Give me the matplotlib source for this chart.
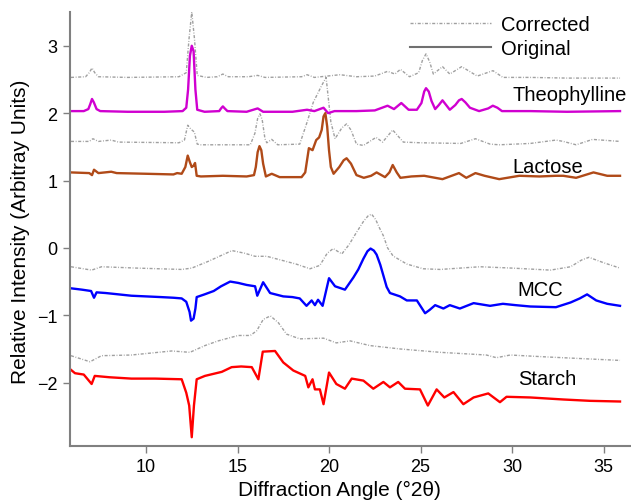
import matplotlib
matplotlib.use("Agg")
import matplotlib.pyplot as plt
from matplotlib.lines import Line2D

plt.rcParams['font.family'] = ['Liberation Sans', 'DejaVu Sans']

# ---- Theophylline ----
theo_orig_x = [5.9, 6.6, 6.85, 6.95, 7.05, 7.15, 7.3, 7.5, 9.0, 11.0, 12.0, 12.2, 12.3, 12.4,
               12.5, 12.6, 12.7, 12.8, 13.2, 14.0, 14.1, 14.2, 14.3, 14.45, 15.5, 16.1, 16.4,
               18.0, 18.8, 19.2, 19.7, 19.95, 20.3, 21.5, 22.5, 23.2, 23.55, 23.95, 24.35, 24.8,
               25.05, 25.2, 25.3, 25.45, 25.6, 25.8, 26.0, 26.2, 26.4, 26.6, 26.9, 27.1, 27.25,
               27.45, 27.7, 28.2, 28.7, 28.95, 29.2, 29.45, 31.0, 33.0, 35.9]
theo_orig_y = [2.03, 2.03, 2.06, 2.13, 2.21, 2.16, 2.06, 2.03, 2.02, 2.02, 2.03, 2.08, 2.35, 2.85,
               3.0, 2.92, 2.35, 2.05, 2.02, 2.03, 2.07, 2.10, 2.07, 2.03, 2.02, 2.07, 2.02,
               2.02, 2.05, 2.03, 2.08, 2.0, 2.03, 2.03, 2.04, 2.11, 2.06, 2.15, 2.05, 2.05,
               2.15, 2.32, 2.37, 2.32, 2.18, 2.06, 2.12, 2.19, 2.12, 2.05, 2.12, 2.19, 2.21,
               2.16, 2.08, 2.03, 2.07, 2.11, 2.08, 2.03, 2.03, 2.02, 2.03]
theo_corr_x = [5.9, 6.7, 6.9, 7.05, 7.2, 7.4, 9.0, 11.8, 12.2, 12.35, 12.5, 12.65, 12.8, 13.3,
               13.9, 14.2, 14.5, 15.6, 16.1, 16.5, 18.5, 18.8, 19.2, 20.6, 21.5, 22.5, 23.2, 23.6,
               23.9, 24.4, 24.9, 25.1, 25.3, 25.5, 25.7, 26.2, 26.6, 27.25, 28.1, 28.96, 29.5,
               31.0, 33.0, 35.9]
theo_corr_y = [2.53, 2.54, 2.6, 2.67, 2.6, 2.54, 2.53, 2.54, 2.6, 3.1, 3.5, 3.1, 2.56, 2.53,
               2.54, 2.58, 2.54, 2.54, 2.56, 2.53, 2.54, 2.57, 2.53, 2.57, 2.54, 2.55, 2.62, 2.58,
               2.65, 2.54, 2.6, 2.78, 2.88, 2.76, 2.58, 2.69, 2.58, 2.69, 2.55, 2.63, 2.53,
               2.53, 2.52, 2.52]

# ---- Lactose ----
lac_orig_x = [5.9, 6.9, 7.05, 7.16, 7.4, 8.1, 8.4, 10.0, 11.5, 11.7, 11.95, 12.15, 12.28, 12.4,
              12.5, 12.6, 12.68, 12.77, 13.0, 14.2, 15.5, 15.9, 16.0, 16.1, 16.2, 16.3, 16.4,
              16.55, 16.87, 17.3, 18.5, 18.7, 18.9, 19.1, 19.3, 19.46, 19.6, 19.7, 19.8, 19.9,
              20.0, 20.1, 20.25, 20.56, 20.8, 20.96, 21.2, 21.5, 21.9, 22.3, 22.6, 23.06, 23.3,
              23.48, 23.7, 23.9, 24.5, 25.2, 26.2, 26.7, 27.1, 27.5, 28.0, 28.5, 29.3, 30.4,
              31.5, 32.4, 32.8, 33.5, 34.45, 35.2, 35.9]
lac_orig_y = [1.12, 1.11, 1.08, 1.16, 1.11, 1.13, 1.11, 1.10, 1.09, 1.11, 1.10, 1.20, 1.37, 1.27,
              1.20, 1.22, 1.26, 1.07, 1.06, 1.07, 1.06, 1.08, 1.20, 1.42, 1.51, 1.45, 1.25,
              1.06, 1.10, 1.05, 1.05, 1.12, 1.48, 1.45, 1.60, 1.64, 1.75, 1.95, 2.00, 1.80,
              1.45, 1.20, 1.10, 1.20, 1.30, 1.33, 1.25, 1.08, 1.04, 1.07, 1.12, 1.05, 1.12,
              1.23, 1.12, 1.04, 1.06, 1.07, 1.02, 1.07, 1.11, 1.04, 1.11, 1.07, 1.02, 1.07,
              1.06, 1.07, 1.07, 1.04, 1.12, 1.07, 1.07]
lac_corr_x = [5.9, 6.9, 7.1, 7.4, 8.1, 8.5, 11.8, 12.1, 12.28, 12.46, 12.64, 12.8, 13.0, 15.7,
              15.95, 16.1, 16.23, 16.35, 16.5, 16.6, 16.87, 17.2, 18.4, 18.77, 19.14, 19.6, 19.84,
              20.1, 20.33, 20.7, 20.96, 21.2, 21.5, 21.88, 22.57, 22.93, 23.48, 24.06, 25.0, 27.2,
              28.0, 28.8, 29.3, 31.0, 32.4, 32.8, 33.5, 34.4, 35.9]
lac_corr_y = [1.58, 1.58, 1.62, 1.58, 1.60, 1.57, 1.56, 1.60, 1.82, 1.76, 1.72, 1.54, 1.53, 1.53,
              1.70, 1.92, 1.99, 1.90, 1.62, 1.56, 1.61, 1.53, 1.54, 1.84, 2.16, 2.41, 2.53,
              1.87, 1.62, 1.78, 1.84, 1.75, 1.54, 1.52, 1.64, 1.57, 1.75, 1.57, 1.56, 1.55,
              1.62, 1.54, 1.53, 1.55, 1.60, 1.58, 1.53, 1.61, 1.58]

# ---- MCC ----
mcc_orig_x = [5.9, 6.5, 7.0, 7.16, 7.3, 7.8, 8.5, 9.2, 10.0, 10.8, 11.5, 11.95, 12.2, 12.38,
              12.46, 12.6, 12.7, 12.77, 13.2, 13.7, 14.1, 14.6, 15.04, 15.5, 15.96, 16.08, 16.4,
              16.78, 17.5, 18.0, 18.4, 18.77, 19.05, 19.23, 19.4, 19.65, 20.0, 20.33, 20.87,
              21.33, 21.6, 21.88, 22.1, 22.27, 22.45, 22.6, 22.8, 22.97, 23.15, 23.33, 23.88,
              24.25, 24.8, 25.25, 25.5, 25.8, 26.25, 26.6, 27.15, 27.9, 28.8, 29.5, 30.2, 31.0,
              32.4, 33.2, 33.7, 34.1, 34.6, 35.2, 35.9]
mcc_orig_y = [-0.60, -0.62, -0.64, -0.74, -0.66, -0.67, -0.69, -0.71, -0.72, -0.73, -0.74, -0.75,
              -0.80, -0.95, -1.08, -1.05, -0.90, -0.73, -0.69, -0.64, -0.57, -0.50, -0.52, -0.55,
              -0.57, -0.71, -0.51, -0.67, -0.72, -0.73, -0.75, -0.86, -0.78, -0.85, -0.77, -0.86,
              -0.45, -0.57, -0.62, -0.44, -0.32, -0.16, -0.05, -0.01, -0.04, -0.10, -0.25, -0.41,
              -0.58, -0.67, -0.72, -0.78, -0.78, -0.97, -0.92, -0.85, -0.90, -0.85, -0.90, -0.82,
              -0.86, -0.83, -0.85, -0.87, -0.88, -0.81, -0.75, -0.69, -0.78, -0.83, -0.86]
mcc_corr_x = [5.9, 7.03, 7.57, 9.5, 11.95, 12.5, 13.4, 14.7, 15.4, 15.96, 16.6, 18.2, 18.96, 19.5,
              19.9, 20.23, 20.7, 21.1, 21.5, 21.9, 22.15, 22.33, 22.55, 22.75, 22.97, 23.2, 23.5,
              24.25, 25.15, 26.07, 28.25, 30.0, 32.1, 33.2, 33.8, 34.2, 34.6, 35.0, 35.9]
mcc_corr_y = [-0.28, -0.33, -0.28, -0.30, -0.32, -0.30, -0.20, -0.04, -0.08, -0.125, -0.125, -0.24,
              -0.31, -0.26, -0.08, -0.01, -0.09, 0.05, 0.23, 0.40, 0.48, 0.50, 0.42, 0.30, 0.18,
              0.00, -0.12, -0.24, -0.31, -0.32, -0.28, -0.30, -0.33, -0.28, -0.18, -0.14, -0.18,
              -0.22, -0.30]

# ---- Starch ----
sta_orig_x = [5.9, 6.12, 6.6, 7.03, 7.2, 8.0, 9.2, 10.5, 11.95, 12.2, 12.36, 12.5, 12.62, 12.77,
              13.22, 14.14, 14.68, 15.2, 15.78, 16.14, 16.38, 17.05, 17.5, 18.05, 18.7, 18.87,
              19.1, 19.23, 19.5, 19.7, 20.0, 20.4, 20.87, 21.24, 21.88, 22.42, 22.97, 23.33, 23.78,
              24.15, 24.97, 25.4, 25.88, 26.3, 26.8, 27.34, 27.9, 28.7, 29.34, 29.7, 31.0, 32.8,
              34.26, 35.9]
sta_orig_y = [-1.81, -1.86, -1.88, -2.02, -1.90, -1.92, -1.94, -1.94, -1.95, -2.15, -2.34, -2.81,
              -2.34, -1.95, -1.90, -1.84, -1.77, -1.76, -1.77, -1.95, -1.54, -1.53, -1.70, -1.82,
              -1.90, -2.07, -1.95, -2.10, -2.10, -2.32, -1.85, -2.02, -2.09, -1.94, -1.97, -2.09,
              -1.99, -2.07, -1.99, -2.09, -2.10, -2.34, -2.10, -2.22, -2.14, -2.32, -2.22, -2.16,
              -2.29, -2.21, -2.22, -2.25, -2.27, -2.28]
sta_corr_x = [5.9, 6.94, 7.57, 9.2, 10.67, 11.4, 12.4, 13.22, 13.95, 15.04, 15.7, 16.05, 16.41,
              16.8, 17.23, 17.68, 18.4, 19.7, 20.4, 21.15, 22.24, 23.88, 26.07, 28.6, 29.15, 29.9,
              32.0, 35.9]
sta_corr_y = [-1.60, -1.69, -1.60, -1.59, -1.55, -1.53, -1.55, -1.45, -1.38, -1.30, -1.30, -1.23,
              -1.06, -1.01, -1.11, -1.28, -1.35, -1.34, -1.41, -1.38, -1.45, -1.50, -1.55, -1.59,
              -1.63, -1.59, -1.62, -1.67]

sample_names = ["Theophylline", "Lactose", "MCC", "Starch"]
sample_label_x = [30.0, 30.0, 30.3, 30.35]
sample_label_y = [2.27, 1.21, -0.62, -1.94]
x_ticks = [10, 15, 20, 25, 30, 35]
y_ticks = [-2, -1, 0, 1, 2, 3]

corr_color = "#a0a0a0"
corr_dashes = (2.2, 1.2, 0.6, 1.2)
spine_color = "#808080"
label_size = 14.5

fig = plt.figure(figsize=(6.31, 5.02), dpi=100)
ax = fig.add_axes([0.111, 0.1096, 0.889, 0.8644])

originals = [
    (theo_orig_x, theo_orig_y, "#d000d0"),
    (lac_orig_x, lac_orig_y, "#b04a18"),
    (mcc_orig_x, mcc_orig_y, "#0000ff"),
    (sta_orig_x, sta_orig_y, "#ff0000"),
]
corrected = [
    (theo_corr_x, theo_corr_y),
    (lac_corr_x, lac_corr_y),
    (mcc_corr_x, mcc_corr_y),
    (sta_corr_x, sta_corr_y),
]

for xs, ys in corrected:
    ax.plot(xs, ys, color=corr_color, lw=1.0, dashes=corr_dashes)
for xs, ys, c in originals:
    ax.plot(xs, ys, color=c, lw=1.7)

for name, lx, ly in zip(sample_names, sample_label_x, sample_label_y):
    ax.text(lx, ly, name, fontsize=label_size, va="center", ha="left")

handles = [
    Line2D([], [], color=corr_color, lw=1.0, dashes=corr_dashes),
    Line2D([], [], color="#707070", lw=1.5),
]
ax.legend(handles, ["Corrected", "Original"], loc="upper right",
          bbox_to_anchor=(0.941, 1.012), frameon=False, fontsize=label_size,
          handlelength=4.0, handletextpad=0.5, labelspacing=0.25,
          borderaxespad=0.0)

ax.set_xlim(5.85, 36.5)
ax.set_ylim(-2.94, 3.5)
ax.set_xticks(x_ticks)
ax.set_yticks(y_ticks)
ax.tick_params(direction="out", length=5, width=1, color=spine_color,
               labelsize=13, pad=4)
for side in ("top", "right"):
    ax.spines[side].set_visible(False)
for side in ("left", "bottom"):
    ax.spines[side].set_color(spine_color)
    ax.spines[side].set_linewidth(1.5)

ax.set_xlabel("Diffraction Angle (°2θ)", fontsize=15)
ax.set_ylabel("Relative Intensity (Arbitray Units)", fontsize=15)
ax.xaxis.set_label_coords(0.481, -0.079)
ax.yaxis.set_label_coords(-0.072, 0.495)

fig.savefig("out.png", dpi=100)
